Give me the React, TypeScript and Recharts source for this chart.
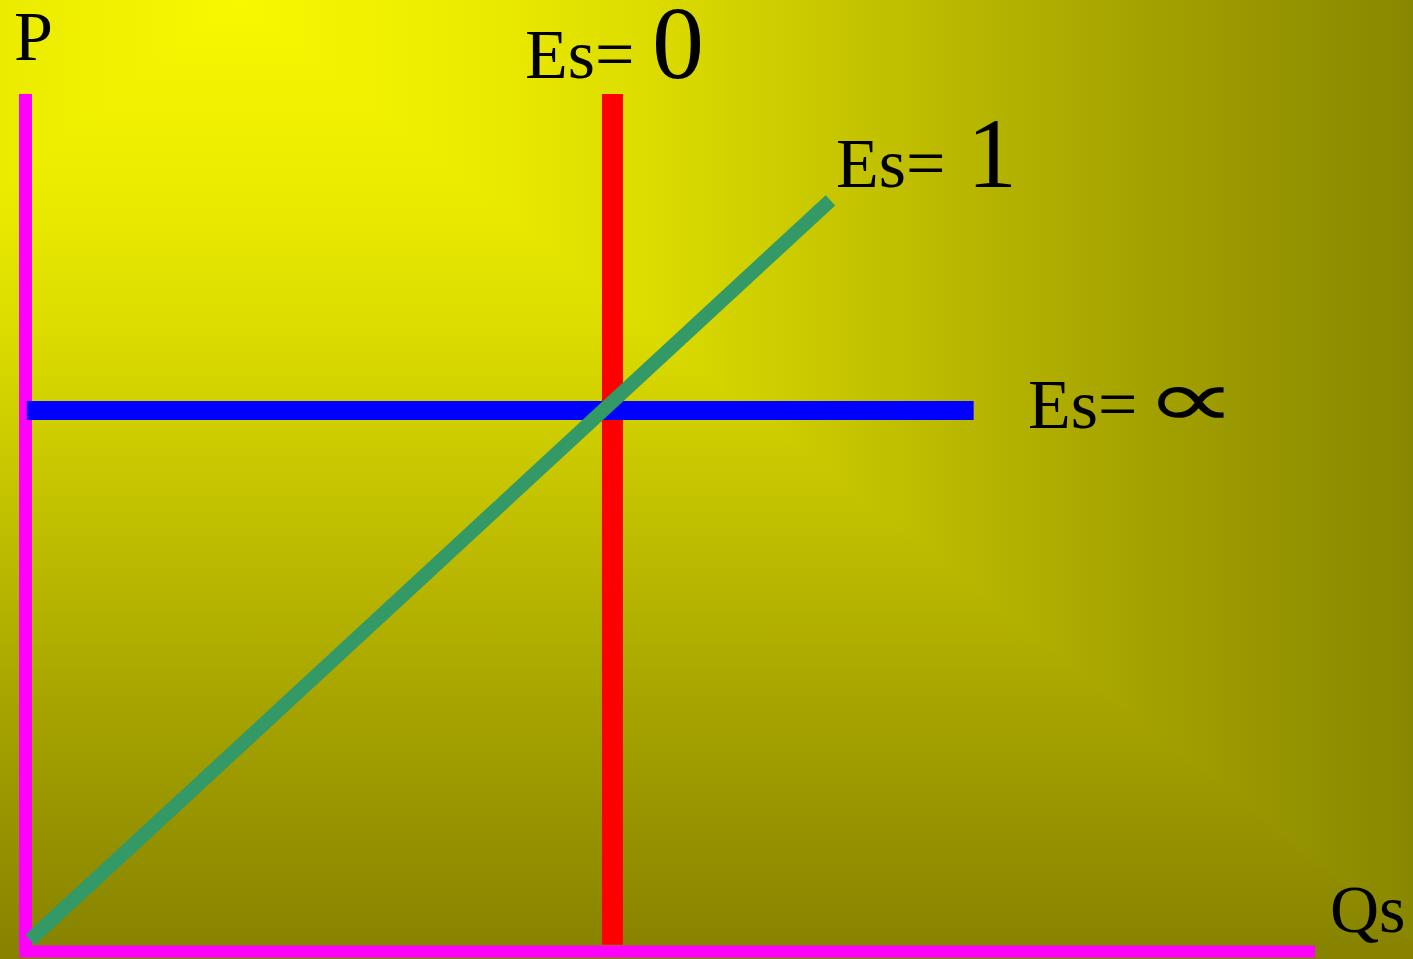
import React from "react";
import { LineChart, Line, XAxis, YAxis } from "recharts";

// Supply curves (data units: x = quantity supplied, y = price)
const axisVertical = [
  { x: 0, y: 0 },
  { x: 0, y: 10 },
];
const axisHorizontal = [
  { x: 0, y: 0 },
  { x: 9.95, y: 0 },
];
const perfectlyInelastic = [
  { x: 4.55, y: 0.08 },
  { x: 4.55, y: 10 },
];
const perfectlyElastic = [
  { x: 0.01, y: 6.31 },
  { x: 7.35, y: 6.31 },
];
const unitElastic = [
  { x: 0.035, y: 0.134 },
  { x: 6.24, y: 8.76 },
];

const axisLabels = { price: "P", quantity: "Qs" };
const curveLabels = { inelastic: "0", unit: "1", elastic: "∝" };

const W = 1413;
const H = 959;
const FONT = '"Liberation Serif", "Times New Roman", serif';

const Background = () => (
  <svg width={W} height={H} style={{ position: "absolute", left: 0, top: 0 }}>
    <defs>
      <linearGradient id="gv" gradientUnits="userSpaceOnUse" x1={0} y1={0} x2={0} y2={950}>
        <stop offset="0" stopColor="#f8f800" />
        <stop offset="0.2" stopColor="#ebeb00" />
        <stop offset="0.347" stopColor="#dcdc00" />
        <stop offset="0.768" stopColor="#a3a000" />
        <stop offset="1" stopColor="#878300" />
      </linearGradient>
      <linearGradient id="gr" gradientUnits="userSpaceOnUse" x1={238} y1={0} x2={1425.5} y2={0}>
        <stop offset="0" stopColor="#f8f800" />
        <stop offset="0.2" stopColor="#ebeb00" />
        <stop offset="0.347" stopColor="#dcdc00" />
        <stop offset="0.768" stopColor="#a3a100" />
        <stop offset="1" stopColor="#878600" />
      </linearGradient>
      <linearGradient id="gl" gradientUnits="userSpaceOnUse" x1={238} y1={0} x2={-949.5} y2={0}>
        <stop offset="0" stopColor="#f8f800" />
        <stop offset="0.2" stopColor="#ebeb00" />
        <stop offset="0.347" stopColor="#dcdc00" />
        <stop offset="1" stopColor="#878300" />
      </linearGradient>
    </defs>
    <rect x={0} y={0} width={W} height={H} fill="url(#gv)" />
    <polygon points="238,0 1413,0 1413,940" fill="url(#gr)" />
    <polygon points="238,0 0,0 0,190.4" fill="url(#gl)" />
  </svg>
);

const Labels = () => (
  <svg
    width={W}
    height={H}
    style={{ position: "absolute", left: 0, top: 0, pointerEvents: "none" }}
    fontFamily={FONT}
    fill="#000"
  >
    <text x={14} y={60} fontSize={70}>
      {axisLabels.price}
    </text>
    <text x={525} y={78} fontSize={70}>
      Es={" "}
      <tspan fontSize={104}>{curveLabels.inelastic}</tspan>
    </text>
    <text x={836} y={187} fontSize={70}>
      Es={" "}
      <tspan fontSize={100} dx={4}>{curveLabels.unit}</tspan>
    </text>
    <text x={1028} y={428} fontSize={70}>
      Es=
    </text>
    <text transform="translate(1144,427) scale(1.6,1.0)" fontSize={82}>
      {curveLabels.elastic}
    </text>
    <text x={1330} y={932} fontSize={68}>
      {axisLabels.quantity}
    </text>
  </svg>
);

export default function App() {
  return (
    <div style={{ position: "fixed", left: 0, top: 0, width: W, height: H, overflow: "hidden" }}>
      <Background />
      <div style={{ position: "absolute", left: 0, top: 0 }}>
        <LineChart
          width={W}
          height={H}
          margin={{ top: 94, right: 97.5, bottom: 7.5, left: 25.5 }}
        >
          <XAxis dataKey="x" type="number" domain={[0, 10]} hide />
          <YAxis type="number" domain={[0, 10]} hide />
          <Line
            data={perfectlyInelastic}
            dataKey="y"
            stroke="#ff0000"
            strokeWidth={21}
            strokeLinecap="butt"
            dot={false}
            activeDot={false}
            isAnimationActive={false}
          />
          <Line
            data={axisVertical}
            dataKey="y"
            stroke="#ff00ff"
            strokeWidth={13}
            strokeLinecap="butt"
            dot={false}
            activeDot={false}
            isAnimationActive={false}
          />
          <Line
            data={axisHorizontal}
            dataKey="y"
            stroke="#ff00ff"
            strokeWidth={12}
            strokeLinecap="square"
            dot={false}
            activeDot={false}
            isAnimationActive={false}
          />
          <Line
            data={perfectlyElastic}
            dataKey="y"
            stroke="#0000ff"
            strokeWidth={19}
            strokeLinecap="butt"
            dot={false}
            activeDot={false}
            isAnimationActive={false}
          />
          <Line
            data={unitElastic}
            dataKey="y"
            stroke="#339966"
            strokeWidth={14}
            strokeLinecap="butt"
            dot={false}
            activeDot={false}
            isAnimationActive={false}
          />
        </LineChart>
      </div>
      <Labels />
    </div>
  );
}
